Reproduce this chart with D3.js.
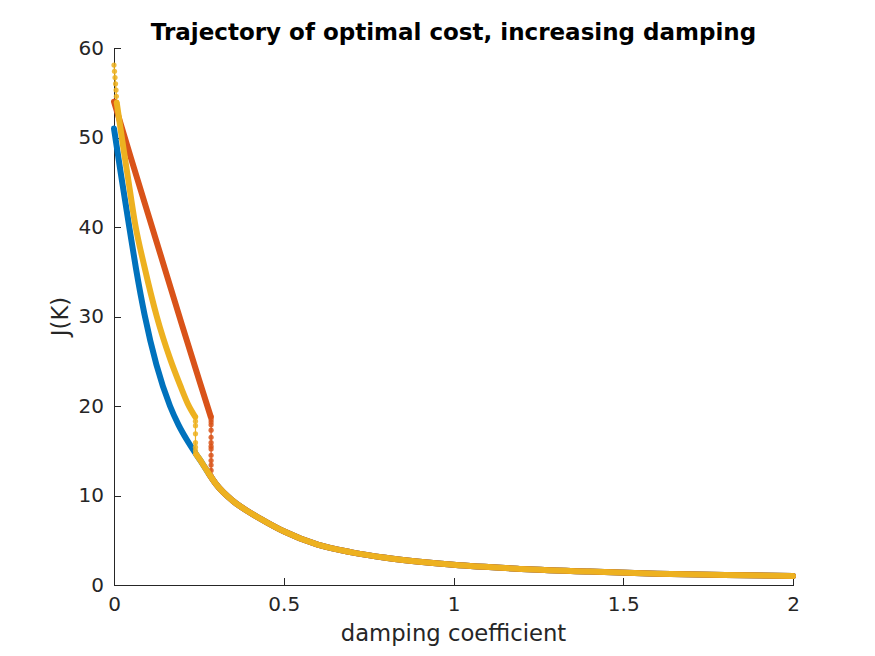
<!DOCTYPE html>
<meta charset="utf-8">
<style>
body {
  margin: 0;
  background: #fff;
  font-family: "DejaVu Sans", sans-serif;
}
.axis path,
.axis line {
  stroke: #262626;
  shape-rendering: crispEdges;
}
.axis text {
  fill: #262626;
  font-size: 20px;
  font-family: "DejaVu Sans", sans-serif;
}
</style>
<body>
<div id="chart"></div>
<script src="https://d3js.org/d3.v7.min.js"></script>
<script>

// steep part before the jump (dense markers)
const blueX = [0, 0.02, 0.045, 0.065, 0.09, 0.125, 0.165, 0.19, 0.215, 0.242];
const blueY = [51.0, 46.0, 40.0, 35.3, 30.2, 24.6, 20.0, 17.9, 16.2, 14.6];

const redX = [0, 0.05, 0.1, 0.15, 0.2, 0.25, 0.285];
const redY = [54.0, 47.7, 41.5, 35.3, 29.1, 23.0, 18.8];

const yellowStartX = [0, 0.0015, 0.003, 0.0045, 0.006, 0.007, 0.008];
const yellowStartY = [58.1, 57.4, 56.7, 56.0, 55.3, 54.6, 53.9];
const yellowX = [0.008, 0.025, 0.04, 0.062, 0.09, 0.126, 0.165, 0.195, 0.218, 0.239];
const yellowY = [53.9, 49.5, 45.8, 40.4, 35.5, 30.0, 25.3, 22.3, 20.2, 18.8];

// vertical jumps (sparse markers)
const yellowJumpX = [0.240, 0.240, 0.240, 0.240, 0.240, 0.240, 0.240, 0.242];
const yellowJumpY = [18.8, 18.3, 17.8, 16.9, 15.9, 15.4, 15.0, 14.6];
const redJumpX = [0.286, 0.286, 0.286, 0.286, 0.286, 0.286, 0.286, 0.286, 0.286, 0.286, 0.286, 0.286, 0.286, 0.286];
const redJumpY = [18.8, 18.5, 18.2, 17.9, 17.3, 16.5, 15.9, 15.5, 15.2, 14.5, 13.9, 13.4, 12.8, 12.2];

// common tail
const tailX = [0.242, 0.26, 0.28, 0.30, 0.35, 0.40, 0.45, 0.5, 0.6, 0.7, 0.8, 0.9, 1.0, 1.2, 1.4, 1.6, 1.8, 2.0];
const tailY = [14.6, 13.6, 12.4, 11.3, 9.4, 8.1, 7.0, 6.0, 4.5, 3.65, 3.05, 2.6, 2.25, 1.8, 1.5, 1.27, 1.12, 1.0];

const xTicks = [0, 0.5, 1, 1.5, 2];
const yTicks = [0, 10, 20, 30, 40, 50, 60];

const width = 875;
const height = 656;
const margin = ({top: 48, right: 82, bottom: 71, left: 114});

const x = d3.scaleLinear()
  .domain([0, 2])
  .range([margin.left, width - margin.right]);

const y = d3.scaleLinear()
  .domain([0, 60])
  .range([height - margin.bottom, margin.top]);

const zip = (xs, ys) => xs.map((v, i) => [v, ys[i]]);

const smooth = d3.line()
  .curve(d3.curveMonotoneX)
  .x(d => x(d[0]))
  .y(d => y(d[1]));

const straight = d3.line()
  .x(d => x(d[0]))
  .y(d => y(d[1]));

const svg = d3.select("#chart")
  .append("svg")
  .attr("width", width)
  .attr("height", height);

// axes
svg.append("g")
  .attr("class", "axis")
  .attr("transform", `translate(0,${height - margin.bottom})`)
  .call(d3.axisBottom(x).tickValues(xTicks).tickSizeInner(-7).tickSizeOuter(0).tickPadding(12)
    .tickFormat(d3.format("~g")));

svg.append("g")
  .attr("class", "axis")
  .attr("transform", `translate(${margin.left},0)`)
  .call(d3.axisLeft(y).tickValues(yTicks).tickSizeInner(-7).tickSizeOuter(0).tickPadding(10));

function drawSeries(color, dense, jump) {
  const g = svg.append("g");
  dense.forEach(pts => {
    g.append("path")
      .datum(pts)
      .attr("fill", "none")
      .attr("stroke", color)
      .attr("stroke-width", 6)
      .attr("stroke-linejoin", "round")
      .attr("stroke-linecap", "round")
      .attr("d", smooth);
  });
  jump.forEach(pts => {
    g.append("path")
      .datum(pts)
      .attr("fill", "none")
      .attr("stroke", color)
      .attr("stroke-width", 1.2)
      .attr("d", straight);
    g.selectAll(null)
      .data(pts)
      .join("circle")
      .attr("cx", d => x(d[0]))
      .attr("cy", d => y(d[1]))
      .attr("r", 2.6)
      .attr("fill", color)
      .attr("fill-opacity", 0.85);
  });
}

drawSeries("#0072BD", [zip(blueX, blueY).concat(zip(tailX, tailY).slice(1))], []);
drawSeries("#D95319", [zip(redX, redY), zip(tailX, tailY).filter(d => d[0] >= 0.28)], [zip(redJumpX, redJumpY)]);
drawSeries("#EDB120", [zip(yellowX, yellowY), zip(tailX, tailY)], [zip(yellowStartX, yellowStartY), zip(yellowJumpX, yellowJumpY)]);

// title
svg.append("text")
  .text("Trajectory of optimal cost, increasing damping")
  .attr("x", (margin.left + width - margin.right) / 2)
  .attr("y", 40)
  .attr("text-anchor", "middle")
  .attr("font-weight", "bold")
  .attr("font-size", "23px")
  .style("fill", "#000");

// x label
svg.append("text")
  .text("damping coefficient")
  .attr("x", (margin.left + width - margin.right) / 2)
  .attr("y", 641)
  .attr("text-anchor", "middle")
  .attr("font-size", "22.7px")
  .style("fill", "#262626");

// y label
svg.append("text")
  .text("J(K)")
  .attr("transform", `translate(68,${(margin.top + height - margin.bottom) / 2}) rotate(-90)`)
  .attr("text-anchor", "middle")
  .attr("font-size", "22.7px")
  .style("fill", "#262626");

</script>
</body>
